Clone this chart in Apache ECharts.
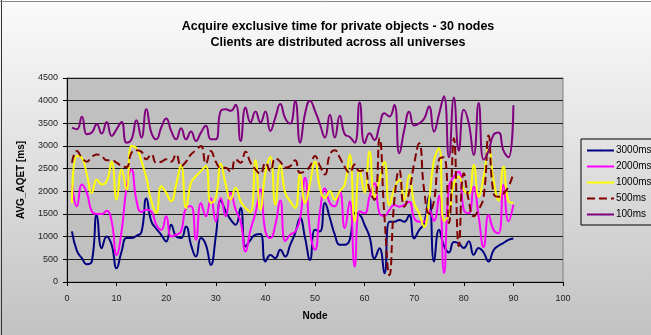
<!DOCTYPE html>
<html>
<head>
<meta charset="utf-8">
<script src="https://cdn.jsdelivr.net/npm/echarts@6/dist/echarts.min.js"></script>
<style>
  html, body { margin: 0; padding: 0; background: #fff; }
  #chart { width: 651px; height: 335px; }
</style>
</head>
<body>
<div id="chart"></div>
<script>
// Average AQET per node for each client think time
const seriesNames = ['3000ms', '2000ms', '1000ms', '500ms', '100ms'];

const aqet3000 = [1116, 687, 525, 392, 451, 1485, 746, 1005, 820, 303,
  672, 968, 968, 1020, 1100, 1840, 1338, 1175, 1042, 894,
  1264, 1005, 968, 1227, 820, 562, 968, 820, 377, 1005,
  1796, 1559, 1375, 1264, 1633, 783, 931, 1042, 1057, 451,
  598, 525, 709, 562, 820, 1079, 1411, 968, 488, 1153,
  1116, 1744, 1411, 1042, 820, 820, 931, 1522, 1485, 1257,
  1000, 522, 743, 191, 1331, 1331, 1368, 1331, 1478, 963,
  1147, 1294, 1900, 450, 1150, 800, 650, 880, 850, 750,
  900, 600, 750, 650, 450, 700, 800, 860, 930, 960];

const aqet2000 = [2150, 1670, 2150, 1966, 1559, 1500, 1500, 1574, 1337, 598,
  1116, 2077, 2483, 1800, 1544, 1596, 1559, 1264, 1153, 1448,
  1005, 1042, 1116, 1633, 1670, 931, 1744, 1448, 1850, 1338,
  1855, 1448, 1966, 1596, 1338, 672, 1153, 1522, 2040, 1116,
  968, 1264, 1796, 900, 1042, 1116, 1411, 2298, 1116, 709,
  1559, 2062, 1744, 1670, 2003, 1190, 1781, 340, 1559, 1514,
  1882, 2176, 1515, 1456, 1588, 1699, 1662, 1699, 1772, 1405,
  1331, 1331, 1588, 1350, 1900, 200, 2100, 2323, 2433, 1588,
  1515, 2103, 1441, 772, 1478, 1147, 1073, 2140, 1338, 1707];

const aqet1000 = [1744, 2779, 2742, 2372, 1966, 2261, 2150, 2224, 2653, 1818,
  2483, 2040, 3000, 2950, 2668, 2298, 1781, 1522, 2113, 1966,
  1781, 2150, 2579, 1633, 2187, 2335, 2446, 2557, 1744, 1855,
  2609, 2150, 1818, 2077, 1781, 1633, 1544, 2683, 1596, 2409,
  2756, 1707, 2579, 1966, 1781, 1633, 2372, 1744, 2187, 2653,
  2077, 1855, 2003, 1818, 2003, 2150, 2815, 1338, 2483, 1976,
  2876, 1882, 2250, 2655, 1699, 2066, 2250, 1809, 2360, 1735,
  1515, 1220, 1809, 2691, 2950, 1350, 1500, 2176, 2323, 2030,
  1956, 2581, 1882, 2323, 2949, 2250, 1800, 2544, 1781, 1744];

const aqet500 = [2631, 2890, 2742, 2653, 2756, 2815, 2779, 2683, 2683, 2631,
  2557, 2535, 2853, 2904, 2875, 2705, 2815, 2631, 2653, 2705,
  2653, 2815, 2557, 2653, 2815, 2904, 3000, 2609, 2890, 2653,
  2520, 2520, 2431, 2705, 2631, 2875, 2631, 2483, 2387, 2631,
  2446, 2727, 2653, 2520, 2557, 2683, 2409, 2446, 2557, 2779,
  2557, 2372, 2815, 2904, 2742, 2535, 2409, 2594, 2446, 2471,
  2030, 1810, 3170, 1444, 150, 1810, 2471, 1662, 1993, 2618,
  3058, 2030, 1515, 1800, 2700, 2750, 1300, 3170, 790, 2400,
  1800, 1450, 1600, 1880, 3230, 1950, 1880, 1950, 2100, 2400];

const aqet100 = [3407, 3370, 3643, 3259, 3296, 3480, 3274, 3532, 3222, 3370,
  3532, 3074, 3148, 3570, 3185, 3813, 3296, 3148, 3407, 3606,
  3333, 3148, 3392, 3148, 3318, 3111, 3296, 3444, 3148, 3148,
  3776, 3813, 3776, 3909, 3111, 3850, 3518, 3762, 3518, 3762,
  3333, 3628, 3924, 3610, 3495, 3998, 3074, 3717, 3998, 3776,
  3480, 3185, 3688, 3185, 3665, 3259, 3200, 3074, 3961, 3060,
  3280, 3133, 3450, 3722, 3650, 3906, 2839, 3354, 3758, 3450,
  3500, 3600, 3869, 3317, 3700, 4100, 2750, 4070, 2900, 3800,
  3500, 2800, 3950, 2700, 2900, 3250, 3300, 2900, 2750, 3900];

// Node numbers run 1..90 along the x axis
const nodes = aqet3000.map((_, i) => i + 1);

const xTicks = { min: 0, max: 100, interval: 10 };
const yTicks = { min: 0, max: 4500, interval: 500 };

const seriesValues = [aqet3000, aqet2000, aqet1000, aqet500, aqet100];
const seriesColors = ['#000080', '#FF00FF', '#FFFF00', '#800000', '#800080'];
const seriesDash = ['solid', 'solid', 'solid', 'dashed', 'solid'];

const FONT = '"Liberation Sans", Arial, sans-serif';

const chart = echarts.init(document.getElementById('chart'), null, { renderer: 'canvas' });

chart.setOption({
  animation: false,
  backgroundColor: {
    type: 'linear', x: 0, y: 0, x2: 0, y2: 1,
    colorStops: [
      { offset: 0, color: '#fbfbfb' },
      { offset: 1, color: '#c2c2c2' }
    ]
  },
  title: {
    text: 'Acquire exclusive time for private objects - 30 nodes\nClients are distributed across all universes',
    left: 333,
    top: 14,
    textAlign: 'center',
    textStyle: { fontFamily: FONT, fontSize: 12.5, fontWeight: 'bold', color: '#000', lineHeight: 16 }
  },
  grid: {
    left: 67, right: 88, top: 78, bottom: 53,
    show: true, backgroundColor: '#C0C0C0', borderColor: '#808080', borderWidth: 1
  },
  legend: {
    orient: 'vertical',
    left: 581, top: 139,
    padding: [6, 14, 5, 5],
    itemWidth: 27, itemHeight: 2, itemGap: 5,
    borderColor: '#000', borderWidth: 1,
    textStyle: { fontFamily: FONT, fontSize: 10, color: '#000', padding: [0, 0, 0, -3], lineHeight: 11 },
    data: seriesNames
  },
  xAxis: {
    type: 'value',
    min: xTicks.min, max: xTicks.max, interval: xTicks.interval,
    name: 'Node', nameLocation: 'middle', nameGap: 29,
    nameTextStyle: { fontFamily: FONT, fontSize: 10, fontWeight: 'bold', color: '#000' },
    axisLine: { show: true, onZero: false, lineStyle: { color: '#000', width: 1 } },
    axisTick: { show: true, inside: false, length: 4, lineStyle: { color: '#000' } },
    axisLabel: { fontFamily: FONT, fontSize: 9, color: '#222', margin: 12 },
    splitLine: { show: false }
  },
  yAxis: {
    type: 'value',
    min: yTicks.min, max: yTicks.max, interval: yTicks.interval,
    name: 'AVG_AQET [ms]', nameLocation: 'middle', nameGap: 41, nameRotate: 90,
    nameTextStyle: { fontFamily: FONT, fontSize: 10, fontWeight: 'bold', color: '#000' },
    axisLine: { show: true, lineStyle: { color: '#000', width: 1 } },
    axisTick: { show: true, inside: false, length: 4, lineStyle: { color: '#000' } },
    axisLabel: { fontFamily: FONT, fontSize: 9, color: '#222', margin: 9, formatter: v => String(v) },
    splitLine: { show: true, lineStyle: { color: '#1a1a1a', width: 1 } }
  },
  series: seriesNames.map((name, k) => ({
    name,
    type: 'line',
    smooth: 0.5,
    symbol: 'none',
    data: nodes.map((n, i) => [n, seriesValues[k][i]]),
    itemStyle: { color: seriesColors[k] },
    lineStyle: { color: seriesColors[k], width: 2, type: seriesDash[k] }
  })),
  graphic: [
    { type: 'line', shape: { x1: 1.5, y1: 0, x2: 1.5, y2: 335 }, style: { stroke: '#333', lineWidth: 1 } },
    { type: 'line', shape: { x1: 0, y1: 1.5, x2: 651, y2: 1.5 }, style: { stroke: '#888', lineWidth: 1 } }
  ]
});
</script>
</body>
</html>
